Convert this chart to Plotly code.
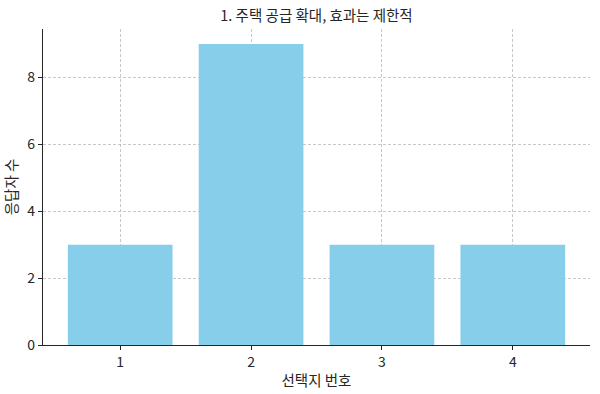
import plotly.graph_objects as go

categories = ["1", "2", "3", "4"]
values = [3, 9, 3, 3]
y_ticks = [0, 2, 4, 6, 8]
title = "1. 주택 공급 확대, 효과는 제한적"
x_title = "선택지 번호"
y_title = "응답자 수"

font = "Noto Sans CJK KR"
x_pos = [int(c) for c in categories]

fig = go.Figure(go.Bar(x=x_pos, y=values, width=0.8, marker=dict(color="#87CEEB", line=dict(width=0))))

fig.update_layout(
    width=600, height=394,
    margin=dict(l=43, r=10, t=29, b=49, autoexpand=False),
    plot_bgcolor="white", paper_bgcolor="white",
    font=dict(family=font, color="#262626", size=13),
    title=dict(text=title, xref="paper", x=0.5, xanchor="center", y=1 - 16/394, yanchor="middle",
               font=dict(size=14.5, family=font, color="#262626")),
    showlegend=False,
)
grid = dict(showgrid=True, gridcolor="rgba(176,176,176,0.7)", griddash="3px,2px", gridwidth=0.8)
fig.update_xaxes(
    range=[0.41, 4.59], tickmode="array", tickvals=x_pos, ticktext=categories,
    showline=True, linecolor="#262626", linewidth=1.2,
    ticks="outside", ticklen=4, tickcolor="#262626",
    zeroline=False, layer="above traces", automargin=False,
    title=dict(text=x_title, font=dict(size=14.5, family=font), standoff=5),
    tickfont=dict(size=14, family=font), **grid,
)
fig.update_yaxes(
    range=[0, 9.45], tickmode="array", tickvals=y_ticks,
    showline=True, linecolor="#262626", linewidth=1.2,
    ticks="outside", ticklen=4, tickcolor="#262626",
    zeroline=False, layer="above traces", automargin=False,
    title=dict(text=y_title, font=dict(size=14.5, family=font), standoff=6),
    tickfont=dict(size=14, family=font), **grid,
)

fig.write_html("out.html", config={"displayModeBar": False},
               post_script="document.body.style.margin='0';document.body.style.overflow='hidden';")
